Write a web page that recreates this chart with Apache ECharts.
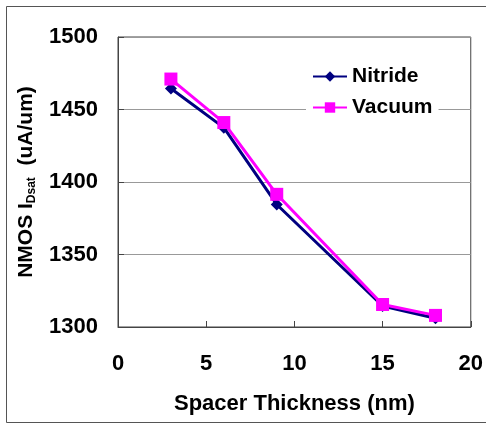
<!DOCTYPE html>
<html>
<head>
<meta charset="utf-8">
<script src="https://cdn.jsdelivr.net/npm/echarts@6/dist/echarts.min.js"></script>
<style>
  html, body { margin: 0; padding: 0; background: #fff; }
  #chart { width: 486px; height: 424px; }
</style>
</head>
<body>
<div id="chart"></div>
<script>
// spacer thickness (nm)
const thickness = [3, 6, 9, 15, 18]
// NMOS Idsat (uA/um)
const nitride = [1464.5, 1437.5, 1384.5, 1314.5, 1306]
const vacuum = [1471, 1441, 1391.5, 1315.5, 1308]

const xTicks = { min: 0, max: 20, interval: 5 }
const yTicks = { min: 1300, max: 1500, interval: 50 }

const font = 'Liberation Sans, Arial, sans-serif'

const toPairs = (xs, ys) => xs.map((x, i) => [x, ys[i]])

const chart = echarts.init(document.getElementById('chart'))
chart.setOption({
  backgroundColor: '#fff',
  animation: false,
  textStyle: { fontFamily: font },
  graphic: [{
    type: 'rect',
    shape: { x: 6.5, y: 6.5, width: 490, height: 416 },
    style: { fill: 'none', stroke: '#555', lineWidth: 1 }
  }],
  grid: {
    left: 118, top: 37, right: 10, bottom: 97,
    show: true, borderColor: '#444', borderWidth: 1, backgroundColor: 'transparent'
  },
  legend: {
    orient: 'vertical',
    left: 306, top: 62,
    backgroundColor: '#fff',
    padding: [4, 6, 4, 6],
    itemWidth: 34, itemHeight: 13, itemGap: 10,
    textStyle: { fontFamily: font, fontSize: 21, fontWeight: 'bold', color: '#000' },
    data: ['Nitride', 'Vacuum']
  },
  xAxis: {
    type: 'value',
    min: xTicks.min, max: xTicks.max, interval: xTicks.interval,
    name: 'Spacer Thickness (nm)',
    nameLocation: 'middle', nameGap: 66,
    nameTextStyle: { fontFamily: font, fontSize: 22, fontWeight: 'bold', color: '#000' },
    axisLine: { lineStyle: { color: '#444' } },
    axisTick: { inside: true, length: 6, lineStyle: { color: '#444' } },
    axisLabel: { margin: 26, fontFamily: font, fontSize: 22, fontWeight: 'bold', color: '#000', showMaxLabel: true },
    splitLine: { show: false }
  },
  yAxis: {
    type: 'value',
    min: yTicks.min, max: yTicks.max, interval: yTicks.interval,
    name: '{a|NMOS I}{s|Dsat}{a|  (uA/um)}',
    nameLocation: 'middle', nameGap: 76, nameRotate: 90,
    nameTextStyle: {
      color: '#000',
      rich: {
        a: { fontFamily: font, fontSize: 21, fontWeight: 'bold', color: '#000', lineHeight: 24 },
        s: { fontFamily: font, fontSize: 12, fontWeight: 'bold', color: '#000', verticalAlign: 'bottom', lineHeight: 24 }
      }
    },
    axisLine: { show: true, lineStyle: { color: '#444' } },
    axisTick: { show: true, inside: true, length: 6, lineStyle: { color: '#444' } },
    axisLabel: {
      margin: 20, fontFamily: font, fontSize: 22, fontWeight: 'bold', color: '#000',
      formatter: v => String(v)
    },
    splitLine: { show: true, lineStyle: { color: '#999', width: 1 } }
  },
  series: [
    {
      name: 'Nitride', type: 'line',
      data: toPairs(thickness, nitride),
      symbol: 'diamond', symbolSize: 12,
      itemStyle: { color: '#000080' },
      lineStyle: { color: '#000080', width: 3 },
      z: 2
    },
    {
      name: 'Vacuum', type: 'line',
      data: toPairs(thickness, vacuum),
      symbol: 'rect', symbolSize: 13,
      itemStyle: { color: '#ff00ff' },
      lineStyle: { color: '#ff00ff', width: 3 },
      z: 3
    }
  ]
})
</script>
</body>
</html>
